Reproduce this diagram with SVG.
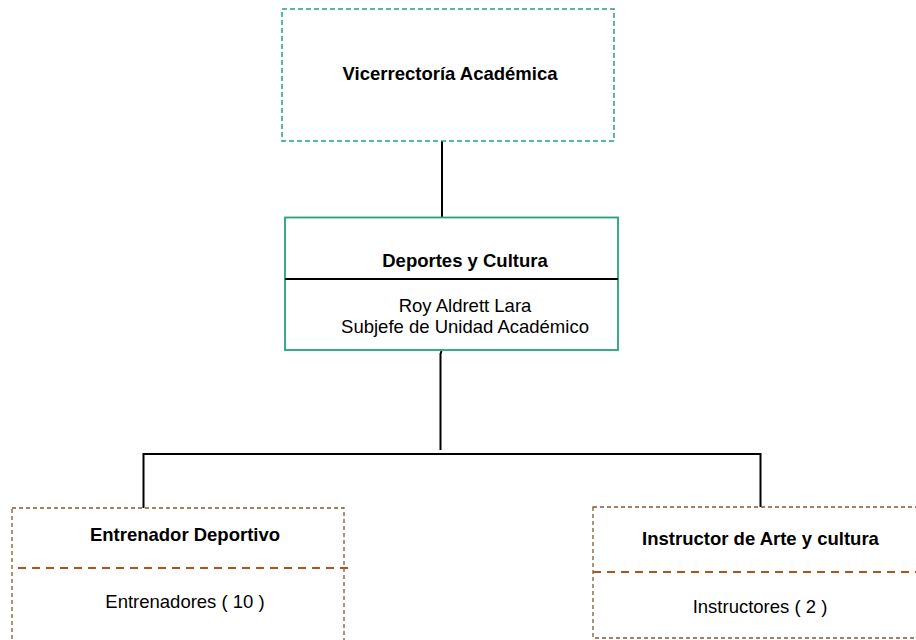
<svg xmlns="http://www.w3.org/2000/svg" width="916" height="640" viewBox="0 0 916 640">
  <style>
    text { font-family: "Liberation Sans", Arial, sans-serif; font-size: 18.5px; fill: #000; text-anchor: middle; }
    .b { font-weight: bold; }
    .green-dash { fill: #fff; stroke: #22a37b; stroke-width: 1.5; stroke-dasharray: 5 3; }
    .green { fill: #fff; stroke: #22a37b; stroke-width: 1.8; }
    .brown { fill: #fff; stroke: #7d5a30; stroke-width: 1.3; stroke-dasharray: 4 3; }
    .split { stroke: #b5521c; stroke-width: 2; stroke-dasharray: 8 6; fill: none; }
    .wire { stroke: #000; stroke-width: 2; fill: none; }
  </style>

  <g id="connectors">
    <line class="wire" x1="442" y1="141" x2="442" y2="217"/>
    <polyline class="wire" points="441.5,351 440.5,354 440.5,450"/>
    <polyline class="wire" points="143.5,508 143.5,454 760.5,454 760.5,508"/>
  </g>

  <g id="vicerrectoria">
    <rect class="green-dash" x="282" y="9" width="332" height="132"/>
    <text class="b" x="450" y="80">Vicerrectoría Académica</text>
  </g>

  <g id="deportes">
    <rect class="green" x="285" y="217.5" width="333" height="132.5"/>
    <line x1="285" y1="279" x2="618" y2="279" stroke="#000" stroke-width="2"/>
    <text class="b" x="465" y="267">Deportes y Cultura</text>
    <text x="465" y="312">Roy Aldrett Lara</text>
    <text x="465" y="333">Subjefe de Unidad Académico</text>
  </g>

  <g id="entrenador">
    <rect class="brown" x="12" y="508" width="332" height="150"/>
    <line class="split" x1="18" y1="568" x2="349" y2="568"/>
    <text class="b" x="185" y="541">Entrenador Deportivo</text>
    <text x="185" y="608">Entrenadores ( 10 )</text>
  </g>

  <g id="instructor">
    <rect class="brown" x="593" y="507" width="340" height="131"/>
    <line class="split" x1="593" y1="572" x2="916" y2="572"/>
    <text class="b" x="760.5" y="545">Instructor de Arte y cultura</text>
    <text x="760" y="613">Instructores ( 2 )</text>
  </g>
</svg>
